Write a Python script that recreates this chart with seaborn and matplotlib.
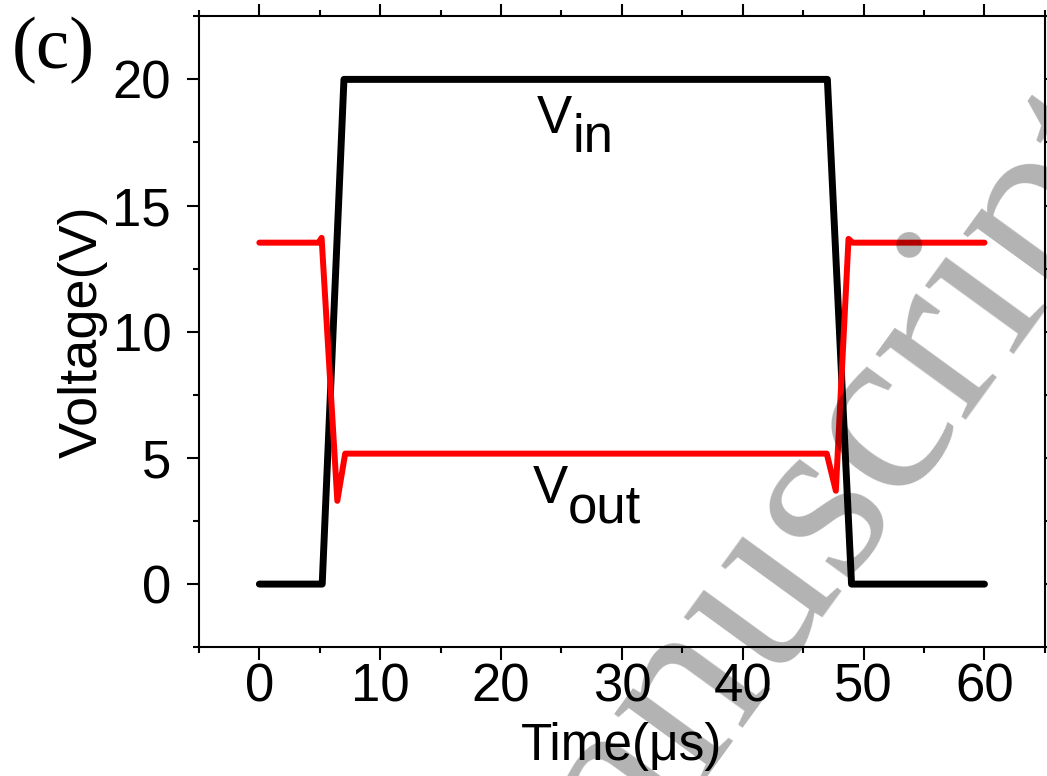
import matplotlib
matplotlib.use("Agg")
import matplotlib.pyplot as plt
from matplotlib.ticker import MultipleLocator
import seaborn as sns
import pandas as pd

# Vin pulse (black) and Vout response (red)
vin_time = [0, 5.2, 7.0, 47.0, 49.0, 60]
vin_volt = [0, 0, 20, 20, 0, 0]

vout_time = [0, 4.9, 5.15, 6.45, 7.1, 46.95, 47.7, 48.75, 49.1, 60]
vout_volt = [13.53, 13.53, 13.72, 3.3, 5.17, 5.17, 3.7, 13.68, 13.53, 13.53]

x_ticks = [0, 10, 20, 30, 40, 50, 60]
y_ticks = [0, 5, 10, 15, 20]


def main():
    sns.set_theme(style="ticks")
    plt.rcParams['font.family'] = ['Liberation Sans', 'DejaVu Sans']
    plt.rcParams['axes.linewidth'] = 1.5
    for k in ['text.color', 'axes.labelcolor', 'xtick.color', 'ytick.color',
              'xtick.labelcolor', 'ytick.labelcolor', 'axes.edgecolor']:
        plt.rcParams[k] = 'black'

    df_in = pd.DataFrame({'t': vin_time, 'v': vin_volt})
    df_out = pd.DataFrame({'t': vout_time, 'v': vout_volt})

    fig = plt.figure(figsize=(10.47, 7.76), dpi=100)
    ax = fig.add_axes([0.190, 0.166, 0.808, 0.813])

    sns.lineplot(ax=ax, data=df_in, x='t', y='v', sort=False, estimator=None,
                 color='black', linewidth=5, solid_capstyle='round', solid_joinstyle='round')
    sns.lineplot(ax=ax, data=df_out, x='t', y='v', sort=False, estimator=None,
                 color='#ff0000', linewidth=4.3, solid_capstyle='round', solid_joinstyle='round')

    ax.set_xlim(-5, 65)
    ax.set_ylim(-2.5, 22.5)
    ax.set_xticks(x_ticks)
    ax.set_yticks(y_ticks)
    ax.xaxis.set_minor_locator(MultipleLocator(5))
    ax.yaxis.set_minor_locator(MultipleLocator(2.5))
    for s in ax.spines.values():
        s.set_visible(True)
        s.set_linewidth(1.5)
        s.set_color('black')

    ax.tick_params(axis='both', which='both', direction='out', color='black',
                   top=True, right=True, labeltop=False, labelright=False)
    ax.tick_params(axis='both', which='major', length=9, width=1.5, labelsize=38,
                   labelcolor='black')
    ax.tick_params(axis='both', which='minor', length=4.5, width=1.5)
    ax.tick_params(axis='x', which='major', pad=2)
    ax.tick_params(axis='y', which='major', pad=11)

    ax.set_xlabel('Time(μs)', fontsize=37, labelpad=7, color='black')
    ax.set_ylabel('Voltage(V)', fontsize=39, labelpad=3, color='black')

    # curve labels with full-size subscripts
    ax.text(22.96, 17.89, 'V', fontsize=38, ha='left', va='baseline')
    ax.annotate('in', xy=(22.96, 17.89), xytext=(26, -13.7), textcoords='offset points',
                fontsize=38, ha='left', va='baseline')
    ax.text(22.63, 3.23, 'V', fontsize=38, ha='left', va='baseline')
    ax.annotate('out', xy=(22.63, 3.23), xytext=(25, -14.4), textcoords='offset points',
                fontsize=38, ha='left', va='baseline')

    fig.text(12 / 1047, 1 - 68 / 776, '(c)', fontsize=54, family='Liberation Serif',
             ha='left', va='baseline')

    # watermark
    fig.text(0.486, -0.341, 'Manuscript', fontsize=175, family='Liberation Serif',
             color='black', alpha=0.3, rotation=54, rotation_mode='anchor',
             ha='left', va='baseline', zorder=10)

    fig.savefig('out.png', dpi=100)


if __name__ == "__main__":
    main()
